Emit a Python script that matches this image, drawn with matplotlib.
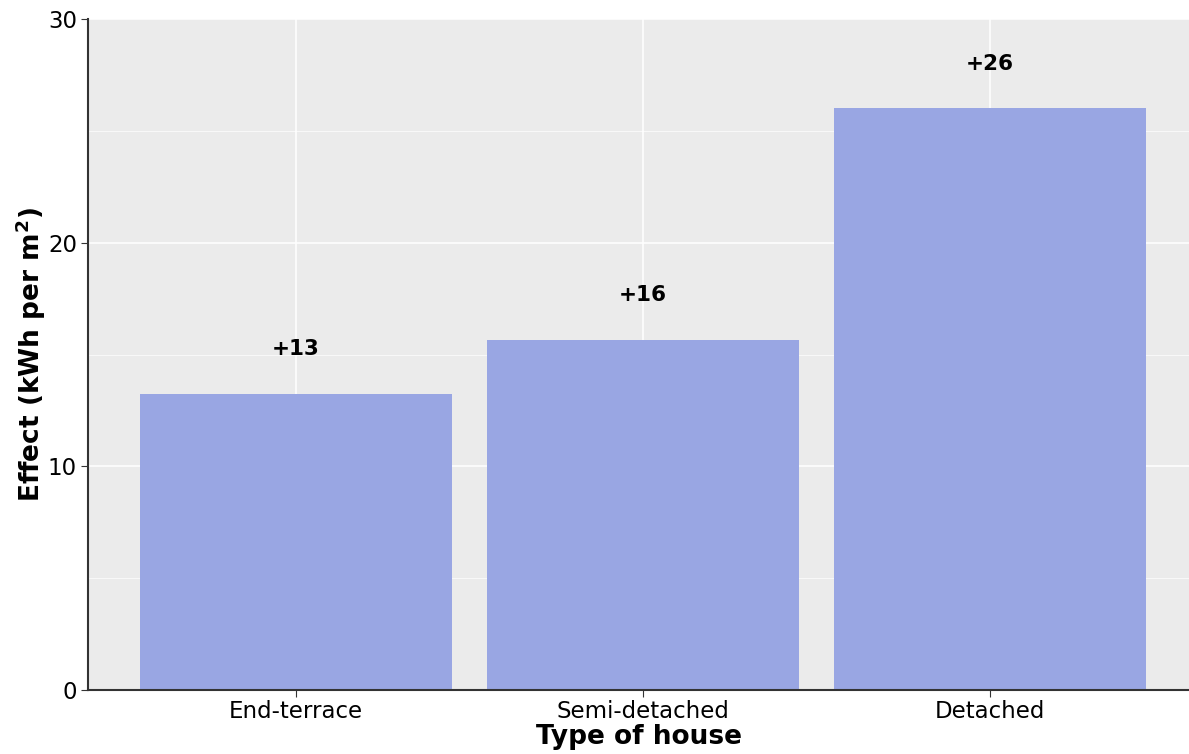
import numpy as np
import matplotlib
matplotlib.use("Agg")
import matplotlib.pyplot as plt
from matplotlib.ticker import MultipleLocator

categories = ["End-terrace", "Semi-detached", "Detached"]
effects = [13.25, 15.65, 26.0]
labels = ["+13", "+16", "+26"]

fig = plt.figure(figsize=(11.89, 7.54), dpi=100, facecolor="white")
ax = fig.add_axes([88 / 1189, 64 / 754, 1 - 88 / 1189, 671 / 754])
ax.set_facecolor("#EBEBEB")
x = np.arange(len(categories))
ax.bar(x, effects, width=0.9, color="#99A6E3", zorder=3)
for xi, v, lab in zip(x, effects, labels):
    ax.text(xi, v + 2.0, lab, ha="center", va="center", fontsize=15.5,
            fontweight="bold", zorder=4)

ax.set_xlim(-0.6, 2.575)
ax.set_ylim(0, 30)
ax.set_xticks(x)
ax.set_xticklabels(categories, fontsize=16.5)
ax.yaxis.set_major_locator(MultipleLocator(10))
ax.yaxis.set_minor_locator(MultipleLocator(5))
ax.tick_params(axis="y", labelsize=16.5, length=5, color="#333333", pad=3)
ax.tick_params(axis="x", length=5, color="#333333", pad=2)
ax.tick_params(axis="y", which="minor", length=0)
ax.grid(which="major", color="white", linewidth=1.1, zorder=0)
ax.grid(which="minor", axis="y", color="white", linewidth=0.5, zorder=0)
ax.set_axisbelow(True)
for s in ["top", "right"]:
    ax.spines[s].set_visible(False)
for s in ["left", "bottom"]:
    ax.spines[s].set_color("#333333")
    ax.spines[s].set_linewidth(1.5)
    ax.spines[s].set_zorder(5)

ax.set_xlabel("Type of house", fontsize=19, fontweight="bold", labelpad=1)
ax.set_ylabel("Effect (kWh per m$^\\mathbf{2}$)", fontsize=19, fontweight="bold", labelpad=0)

fig.savefig("out.png", dpi=100, facecolor="white")
